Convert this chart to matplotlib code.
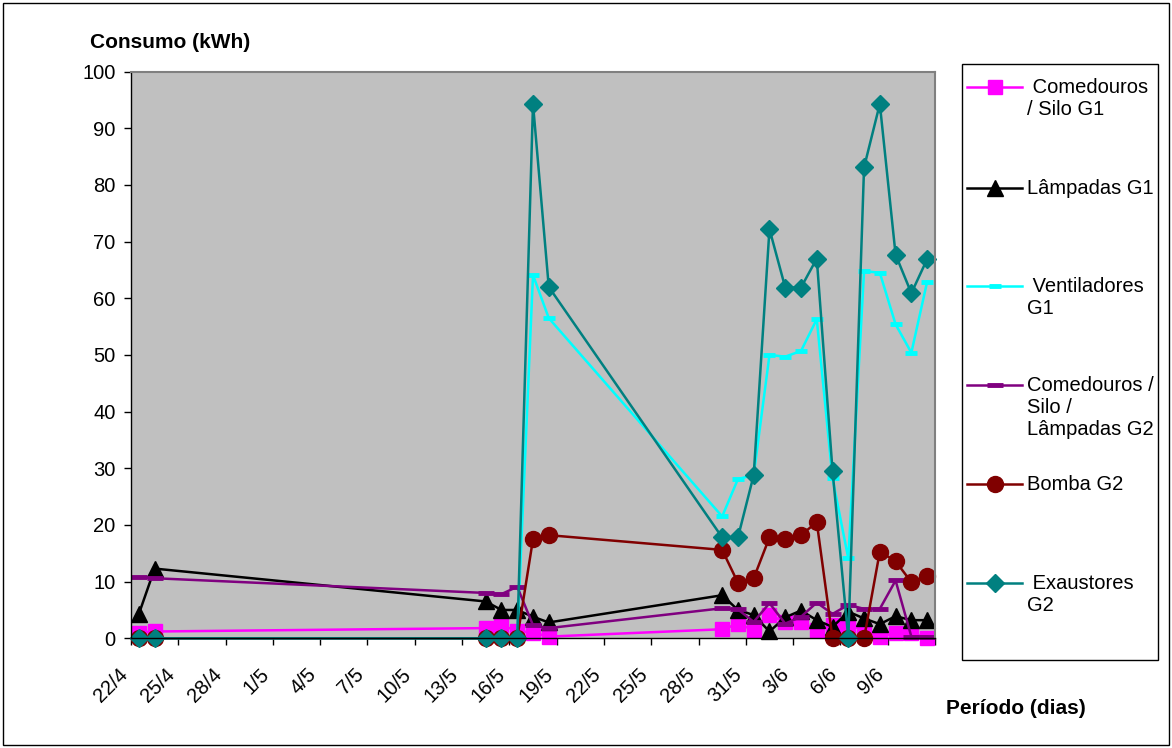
import matplotlib
matplotlib.use("Agg")
import matplotlib.pyplot as plt
from matplotlib.lines import Line2D
from matplotlib.patches import Rectangle
from datetime import date
import numpy as np

plt.rcParams['font.family'] = ['Liberation Sans', 'DejaVu Sans']

# measurement dates (day/month)
datas = ["22/4", "23/4", "14/5", "15/5", "16/5", "17/5", "18/5", "29/5", "30/5", "31/5",
         "1/6", "2/6", "3/6", "4/6", "5/6", "6/6", "7/6", "8/6", "9/6", "10/6", "11/6"]

# consumption per series (kWh)
comedouros_g1 = [1.0, 1.2, 1.8, 2.3, 1.3, 1.0, 0.3, 1.6, 2.5, 1.5, 4.1,
                 2.9, 2.9, 1.5, 2.3, 2.3, 1.5, 0.2, 1.0, 1.0, 0.0]
lampadas_g1 = [4.3, 12.3, 6.5, 5.0, 5.0, 3.8, 2.8, 7.6, 5.0, 4.1, 1.2,
               3.7, 4.9, 3.2, 2.0, 4.7, 3.5, 2.5, 3.9, 3.2, 3.2]
ventiladores_g1 = [0, 0, 0, 0, 0, 64.1, 56.5, 21.5, 28.1, 28.8, 50.0,
                   49.7, 50.7, 56.3, 28.2, 14.1, 64.8, 64.5, 55.4, 50.4, 62.9]
comedouros_g2 = [10.8, 10.6, 8.0, 7.8, 9.1, 2.3, 1.8, 5.3, 5.1, 2.9, 6.2,
                 2.6, 3.8, 6.3, 4.3, 5.9, 5.2, 5.2, 10.2, 0.3, 0.3]
bomba_g2 = [0, 0, 0, 0, 0, 17.5, 18.2, 15.6, 9.8, 10.6, 17.8,
            17.5, 18.2, 20.5, 0, 0, 0, 15.3, 13.6, 9.9, 11.0]
exaustores_g2 = [0, 0, 0, 0, 0, 94.3, 62.0, 17.8, 17.8, 28.8, 72.2,
                 61.9, 61.9, 67.0, 29.6, 0, 83.1, 94.3, 67.7, 60.9, 66.9]

tick_labels = ["22/4", "25/4", "28/4", "1/5", "4/5", "7/5", "10/5", "13/5", "16/5",
               "19/5", "22/5", "25/5", "28/5", "31/5", "3/6", "6/6", "9/6", ""]

# days since 22/4
inicio = date(2006, 4, 22)
dias = [(date(2006, int(s.split("/")[1]), int(s.split("/")[0])) - inicio).days for s in datas]

series = [
    (" Comedouros\n/ Silo G1", comedouros_g1, "#FF00FF", "s", 10, 1.8),
    ("Lâmpadas G1", lampadas_g1, "black", "^", 12, 1.8),
    (" Ventiladores\nG1", ventiladores_g1, "#00FFFF", "_", 9, 1.8),
    ("Comedouros /\nSilo /\nLâmpadas G2", comedouros_g2, "#800080", "_", 12, 1.8),
    ("Bomba G2", bomba_g2, "#800000", "o", 11.5, 1.8),
    (" Exaustores\nG2", exaustores_g2, "#008080", "D", 9.5, 1.8),
]

W, H = 1172, 748
fig = plt.figure(figsize=(W / 100, H / 100), dpi=100)
ax = fig.add_axes([131 / W, 1 - 638.3 / H, (935 - 131) / W, (638.3 - 71.6) / H])
ax.set_facecolor("#C0C0C0")

for label, vals, cor, mk, ms, lw in series:
    mew = 3.5 if mk == "_" else 1
    ax.plot(dias, vals, color=cor, marker=mk, markersize=ms, linewidth=lw,
            markeredgewidth=mew, markeredgecolor=cor, clip_on=False)

ax.set_xlim(-0.5, 50.5)
ax.set_ylim(0, 100)
ax.set_yticks(np.arange(0, 101, 10))
ax.set_xticks(np.arange(-0.5, 51, 3))
ax.set_xticklabels(tick_labels, rotation=45, ha="right", rotation_mode="default")
ax.tick_params(axis="both", labelsize=14.5, length=5, width=1, direction="out")
ax.tick_params(axis="y", pad=6)
ax.tick_params(axis="x", pad=14)
for s in ["left", "bottom"]:
    ax.spines[s].set_color("black")
    ax.spines[s].set_linewidth(1)
for s in ["top", "right"]:
    ax.spines[s].set_color("#808080")
    ax.spines[s].set_linewidth(1.5)

fig.text(90 / W, 1 - 42 / H, "Consumo (kWh)", fontsize=15, fontweight="bold", va="center")
fig.text(946 / W, 1 - 708 / H, "Período (dias)", fontsize=15, fontweight="bold", va="center")

# legend box drawn by hand so handles align with first text line
fig.patches.append(Rectangle((962 / W, 1 - 660 / H), (1158 - 962) / W, (660 - 64) / H,
                             transform=fig.transFigure, fill=False, ec="black", lw=1))
ys = [87, 188, 286, 385, 484, 583]
for (label, vals, cor, mk, ms, lw), y in zip(series, ys):
    mew = 3.5 if mk == "_" else 1
    fig.lines.append(Line2D([967 / W, 995 / W, 1022 / W], [1 - y / H] * 3,
                            transform=fig.transFigure, color=cor, marker=mk,
                            markersize=ms, markevery=[1], linewidth=lw,
                            markeredgewidth=mew, markeredgecolor=cor))
    fig.text(1027 / W, 1 - (y - 9) / H, label, fontsize=14.5, va="top",
             linespacing=1.2)

# outer chart border
fig.patches.append(Rectangle((3 / W, 3 / H), (W - 6) / W, (H - 6) / H,
                             transform=fig.transFigure, fill=False, ec="black", lw=1))

fig.savefig("out.png", dpi=100)
